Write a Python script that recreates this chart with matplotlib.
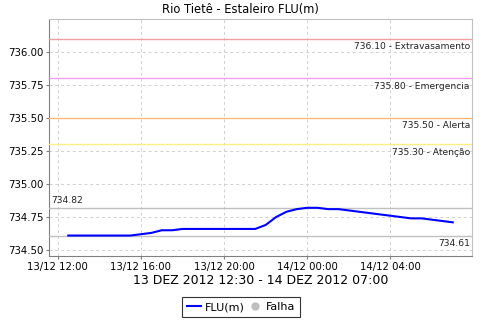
import matplotlib
matplotlib.use("Agg")
import matplotlib.pyplot as plt
import matplotlib.dates as mdates
from matplotlib.lines import Line2D
import numpy as np
import datetime as dt

# ---- data ----
start = dt.datetime(2012, 12, 13, 12, 30)
hours_offset = [i * 0.5 for i in range(38)]
flu_values = [734.61, 734.61, 734.61, 734.61, 734.61, 734.61, 734.61,
              734.62, 734.63, 734.65, 734.65, 734.66,
              734.66, 734.66, 734.66, 734.66, 734.66, 734.66, 734.66,
              734.69, 734.75, 734.79, 734.81, 734.82, 734.82,
              734.81, 734.81, 734.80, 734.79, 734.78, 734.77, 734.76,
              734.75, 734.74, 734.74, 734.73, 734.72, 734.71]
times = [start + dt.timedelta(hours=h) for h in hours_offset]

threshold_values = [736.10, 735.80, 735.50, 735.30]
threshold_names = ["Extravasamento", "Emergencia", "Alerta", "Atenção"]
threshold_colors = ["#F0A0A0", "#F0A0F0", "#FFB878", "#FFEE88"]

max_value = 734.82
min_value = 734.61

title = "Rio Tietê - Estaleiro FLU(m)"
xlabel = "13 DEZ 2012 12:30 - 14 DEZ 2012 07:00"

# ---- figure ----
fig = plt.figure(figsize=(4.8, 3.2), dpi=100)
ax = fig.add_axes([49/480, 1 - 256/320, (472-49)/480, (256-19)/320])

ax.plot(times, flu_values, color="#0000FF", lw=1.5, zorder=5)

for v, n, c in zip(threshold_values, threshold_names, threshold_colors):
    ax.axhline(v, color=c, lw=1.0, zorder=3)
    ax.text(0.995, v - 0.025, f"{v:.2f} - {n}", transform=ax.get_yaxis_transform(),
            ha="right", va="top", fontsize=6.6, color="#222222", zorder=6)

ax.axhline(max_value, color="#C0C0C0", lw=1.0, zorder=3)
ax.axhline(min_value, color="#C0C0C0", lw=1.0, zorder=3)
ax.text(0.005, max_value + 0.02, f"{max_value:.2f}", transform=ax.get_yaxis_transform(),
        ha="left", va="bottom", fontsize=6.6, color="#222222")
ax.text(0.995, min_value - 0.025, f"{min_value:.2f}", transform=ax.get_yaxis_transform(),
        ha="right", va="top", fontsize=6.6, color="#222222")

ax.set_ylim(734.455, 736.25)
ax.set_yticks([734.50, 734.75, 735.00, 735.25, 735.50, 735.75, 736.00])
ax.yaxis.set_major_formatter(matplotlib.ticker.FormatStrFormatter("%.2f"))
ax.margins(x=0.05)
ax.xaxis.set_major_locator(mdates.HourLocator(byhour=[0, 4, 8, 12, 16, 20]))
ax.xaxis.set_major_formatter(mdates.DateFormatter("%d/%m %H:%M"))

ax.grid(True, color="#D0D0D0", ls=(0, (3, 3)), lw=0.7)
ax.set_axisbelow(True)
for s in ["left", "bottom"]:
    ax.spines[s].set_color("#808080")
for s in ["top", "right"]:
    ax.spines[s].set_color("#C0C0C0")
ax.tick_params(axis="both", labelsize=7.3, length=2, color="#808080", pad=2)

ax.set_xlabel(xlabel, fontsize=9, labelpad=2)
fig.text(240/480, 1 - 9/320, title, ha="center", va="center", fontsize=8.3)

handles = [Line2D([], [], color="#0000FF", lw=1.5),
           Line2D([], [], color="#C0C0C0", marker="o", ls="none", markersize=5)]
leg = fig.legend(handles, ["FLU(m)", "Falha"], loc="center", bbox_to_anchor=(241/480, 1 - 307/320),
                 ncol=2, fontsize=8, frameon=True, fancybox=False, handlelength=1.3,
                 handletextpad=0.3, columnspacing=0.3, borderpad=0.45, borderaxespad=0)
leg.get_frame().set_edgecolor("black")
leg.get_frame().set_linewidth(0.8)

fig.savefig("out.png", dpi=100)
